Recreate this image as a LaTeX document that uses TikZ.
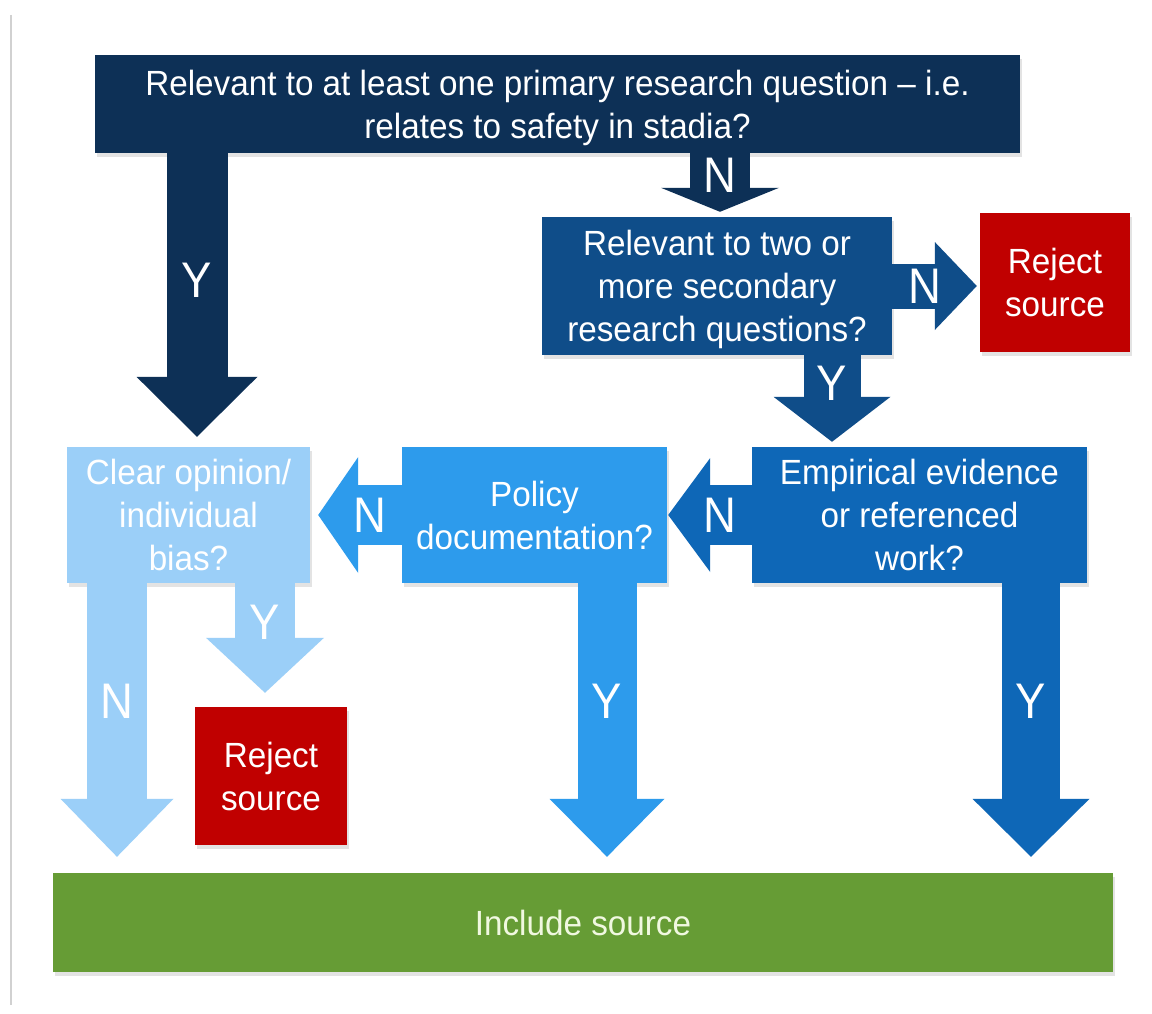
\documentclass[tikz,border=0pt]{standalone}
\usepackage{fontspec}
\setmainfont{Liberation Sans}[FakeStretch=0.95]
\newfontfamily\lblfont{Liberation Sans}[FakeStretch=0.91]
\usetikzlibrary{arrows.meta,shadows,calc}
\definecolor{cnavy}{HTML}{0D3056}
\definecolor{cdark}{HTML}{0F4D89}
\definecolor{cmid}{HTML}{0E67B7}
\definecolor{cpol}{HTML}{2D9BEC}
\definecolor{clight}{HTML}{9BCFF8}
\definecolor{cred}{HTML}{C00000}
\definecolor{cgreen}{HTML}{669C35}
\definecolor{cinc}{HTML}{F0F8E0}
\begin{document}
\begin{tikzpicture}[x=1pt,y=-1pt,
  box/.style={rectangle, inner sep=0pt, align=center, text=white,
    font=\fontsize{35}{43}\selectfont,
    drop shadow={opacity=0.22,shadow xshift=2pt,shadow yshift=-4pt}},
  barrow/.style n args={4}{draw=#1, line width=#2,
    -{Triangle[length=#3,width=#4,line width=0pt]}},
  lbl/.style={text=white, inner sep=0pt, font=\lblfont\fontsize{50}{50}\selectfont}
]
\fill[white] (0,0) rectangle (1152,1014);
\useasboundingbox (0,0) rectangle (1152,1014);
\draw[black!18, line width=1.5pt] (11,15) -- (11,1005);

% boxes
\node[box, fill=cnavy, minimum width=925pt, minimum height=98pt] (top) at (557.5,104)
  {\raisebox{-4pt}[\height][\depth]{\begin{tabular}{@{}c@{}}Relevant to at least one primary research question -- i.e.\\ relates to safety in stadia?\end{tabular}}};
\node[box, fill=cdark, minimum width=350pt, minimum height=138pt] (box2) at (717,286)
  {\raisebox{-4pt}[\height][\depth]{\begin{tabular}{@{}c@{}}Relevant to two or\\ more secondary\\ research questions?\end{tabular}}};
\node[box, fill=cred, minimum width=150pt, minimum height=139pt] (rej1) at (1055,282.5)
  {Reject\\ source};
\node[box, fill=cmid, minimum width=335pt, minimum height=136pt] (emp) at (919.5,515)
  {Empirical evidence\\ or referenced\\ work?};
\node[box, fill=cpol, minimum width=265pt, minimum height=136pt] (pol) at (534.5,515)
  {Policy\\ documentation?};
\node[box, fill=clight, minimum width=243pt, minimum height=136pt] (clr) at (188.5,515)
  {Clear opinion/\\ individual\\ bias?};
\node[box, fill=cred, minimum width=152pt, minimum height=138pt] (rej2) at (271,776)
  {Reject\\ source};
\node[box, fill=cgreen, text=cinc, minimum width=1060pt, minimum height=99pt] (inc) at (583,922.5)
  {Include source};

% column / row guides
\coordinate (cY1) at (197,0);
\coordinate (cN1) at (720,0);
\coordinate (cY2) at (832,0);
\coordinate (rN2) at (0,286);
\coordinate (rN3) at (0,515);
\coordinate (cN5) at (117,0);
\coordinate (cY5) at (265,0);
\coordinate (cY4) at (607,0);
\coordinate (cY3) at (1031,0);

% connectors
\draw[barrow={cnavy}{61pt}{60pt}{121pt}] (top.south -| cY1) -- ($(clr.north -| cY1)+(0,-10)$)
  node[lbl,pos=0.447] {Y};
\draw[barrow={cnavy}{60pt}{24pt}{118pt}] (top.south -| cN1) -- ($(box2.north -| cN1)+(0,-5)$)
  node[lbl,pos=0.37] {N};
\draw[barrow={cdark}{45pt}{42pt}{88pt}] (box2.east |- rN2) -- ($(rej1.west |- rN2)+(-3,0)$)
  node[lbl,pos=0.39] {N};
\draw[barrow={cdark}{57pt}{45pt}{117pt}] (box2.south -| cY2) -- ($(emp.north -| cY2)+(0,-5)$)
  node[lbl,pos=0.32] {Y};
\draw[barrow={cmid}{60pt}{42pt}{114pt}] (emp.west |- rN3) -- ($(pol.east |- rN3)+(1,0)$)
  node[lbl,pos=0.38] {N};
\draw[barrow={cpol}{60pt}{40pt}{116pt}] (pol.west |- rN3) -- ($(clr.east |- rN3)+(8,0)$)
  node[lbl,pos=0.38] {N};
\draw[barrow={clight}{60pt}{58pt}{113pt}] (clr.south -| cN5) -- ($(inc.north -| cN5)+(0,-16)$)
  node[lbl,pos=0.43] {N};
\draw[barrow={clight}{60pt}{55pt}{118pt}] (clr.south -| cY5) -- ($(rej2.north -| cY5)+(0,-14)$)
  node[lbl,pos=0.36] {Y};
\draw[barrow={cpol}{59pt}{58pt}{115pt}] (pol.south -| cY4) -- ($(inc.north -| cY4)+(0,-16)$)
  node[lbl,pos=0.43] {Y};
\draw[barrow={cmid}{58pt}{58pt}{117pt}] (emp.south -| cY3) -- ($(inc.north -| cY3)+(0,-16)$)
  node[lbl,pos=0.43] {Y};
\end{tikzpicture}
\end{document}
